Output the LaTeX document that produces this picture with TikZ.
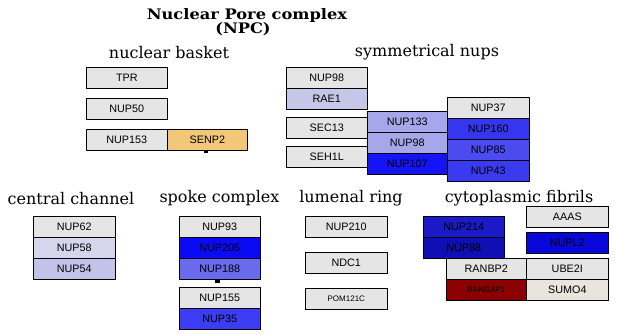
\documentclass[tikz,border=0pt]{standalone}
\usepackage{fontspec}
\setmainfont{DejaVu Serif}
\newfontfamily\boxfont{Liberation Sans}
\usetikzlibrary{backgrounds}
\definecolor{cgray}{HTML}{E5E5E5}
\definecolor{crae}{HTML}{C6C6E8}
\definecolor{clav}{HTML}{A6A6EB}
\definecolor{cb107}{HTML}{1414F5}
\definecolor{cb160}{HTML}{3636F0}
\definecolor{cb85}{HTML}{4B4BF0}
\definecolor{cb43}{HTML}{3A3AF0}
\definecolor{c58}{HTML}{D5D5EC}
\definecolor{c54}{HTML}{C3C3EA}
\definecolor{cb205}{HTML}{0A0AF5}
\definecolor{cb188}{HTML}{6A6AEE}
\definecolor{cb35}{HTML}{3C3CF2}
\definecolor{cb214}{HTML}{1A1AC8}
\definecolor{cb88}{HTML}{0F0FB4}
\definecolor{cbl2}{HTML}{0808D8}
\definecolor{cred}{HTML}{8B0000}
\definecolor{csumo}{HTML}{E8E4DE}
\definecolor{csenp}{HTML}{F2C878}
\tikzset{
  gbox/.style={draw=black, line width=0.6pt, anchor=north west, inner sep=0pt,
    minimum height=21pt, minimum width=81pt, font=\boxfont\fontsize{10.8}{12}\selectfont},
  smallbox/.style={gbox, font=\boxfont\fontsize{8}{10}\selectfont},
  heading/.style={font=\fontsize{16}{18}\selectfont, inner sep=0pt},
  titletext/.style={font=\bfseries\fontsize{14.5}{14}\selectfont, inner sep=0pt, xscale=1.12, transform shape},
  shadowfill/.style={fill=black}
}
\newcommand{\grpshadow}[2]{\fill[shadowfill] ([shift={(1.6,1.6)}]#1.north west) rectangle ([shift={(1.6,1.6)}]#2.south east);}
\begin{document}
\begin{tikzpicture}[x=1pt,y=-1pt]
\useasboundingbox[fill=white] (0,0) rectangle (617,334);
% titles
\node[titletext] (title) at (247,15.5) {Nuclear Pore complex};
\node[titletext] (npc) at (243,29) {(NPC)};
\node[heading] (hbasket) at (169,52.5) {nuclear basket};
\node[heading] (hsym) at (427,52.5) {symmetrical nups};
\node[heading] (hcentral) at (71,198.5) {central channel};
\node[heading] (hspoke) at (219.5,198.5) {spoke complex};
\node[heading] (hlumen) at (351,198.5) {lumenal ring};
\node[heading] (hcyto) at (519,198.5) {cytoplasmic fibrils};
% nuclear basket
\node[gbox, fill=cgray] (tpr) at (86,67) {TPR};
\node[gbox, fill=cgray] (nup50) at (86,98) {NUP50};
\node[gbox, fill=cgray] (nup153) at (86,129) {NUP153};
\node[gbox, fill=csenp, minimum width=80pt] (senp2) at (167,129) {SENP2};
% symmetrical nups
\node[gbox, fill=cgray] (nup98a) at (286,67) {NUP98};
\node[gbox, fill=crae] (rae1) at (286,88) {RAE1};
\node[gbox, fill=cgray] (sec13) at (286,117) {SEC13};
\node[gbox, fill=cgray] (seh1l) at (286,146) {SEH1L};
\node[gbox, fill=clav, minimum width=80pt] (nup133) at (367,111) {NUP133};
\node[gbox, fill=clav, minimum width=80pt] (nup98b) at (367,132) {NUP98};
\node[gbox, fill=cb107, minimum width=80pt] (nup107) at (367,153) {NUP107};
\node[gbox, fill=cgray, minimum width=82pt] (nup37) at (447,97) {NUP37};
\node[gbox, fill=cb160, minimum width=82pt] (nup160) at (447,118) {NUP160};
\node[gbox, fill=cb85, minimum width=82pt] (nup85) at (447,139) {NUP85};
\node[gbox, fill=cb43, minimum width=82pt] (nup43) at (447,160) {NUP43};
% central channel
\node[gbox, fill=cgray, minimum width=82pt] (nup62) at (33,216) {NUP62};
\node[gbox, fill=c58, minimum width=82pt] (nup58) at (33,237) {NUP58};
\node[gbox, fill=c54, minimum width=82pt] (nup54) at (33,258) {NUP54};
% spoke complex
\node[gbox, fill=cgray] (nup93) at (179,216) {NUP93};
\node[gbox, fill=cb205] (nup205) at (179,237) {NUP205};
\node[gbox, fill=cb188] (nup188) at (179,258) {NUP188};
\node[gbox, fill=cgray] (nup155) at (179,287) {NUP155};
\node[gbox, fill=cb35] (nup35) at (179,308) {NUP35};
% lumenal ring
\node[gbox, fill=cgray, minimum width=82pt] (nup210) at (305,216) {NUP210};
\node[gbox, fill=cgray, minimum width=82pt] (ndc1) at (305,252) {NDC1};
\node[smallbox, fill=cgray, minimum width=82pt] (pom) at (305,288) {POM121C};
% cytoplasmic fibrils
\node[gbox, fill=cb214] (nup214) at (423,216) {NUP214};
\node[gbox, fill=cb88] (nup88) at (423,237) {NUP88};
\node[gbox, fill=cgray, minimum width=82pt] (aaas) at (526,206) {AAAS};
\node[gbox, fill=cbl2, minimum width=82pt] (nupl2) at (526,232) {NUPL2};
\node[gbox, fill=cgray, minimum width=80pt] (ranbp2) at (446,258) {RANBP2};
\node[smallbox, fill=cred, minimum width=80pt] (rangap) at (446,279) {RANGAP1};
\node[gbox, fill=cgray, minimum width=82pt] (ube2i) at (526,258) {UBE2I};
\node[gbox, fill=csumo, minimum width=82pt] (sumo4) at (526,279) {SUMO4};
% shadows
\begin{pgfonlayer}{background}
\grpshadow{tpr}{tpr}
\grpshadow{nup50}{nup50}
\grpshadow{nup153}{senp2}
\grpshadow{nup98a}{rae1}
\grpshadow{sec13}{sec13}
\grpshadow{seh1l}{seh1l}
\grpshadow{nup133}{nup107}
\grpshadow{nup37}{nup43}
\grpshadow{nup62}{nup54}
\grpshadow{nup93}{nup188}
\grpshadow{nup155}{nup35}
\grpshadow{nup210}{nup210}
\grpshadow{ndc1}{ndc1}
\grpshadow{pom}{pom}
\grpshadow{nup214}{nup88}
\grpshadow{aaas}{aaas}
\grpshadow{nupl2}{nupl2}
\grpshadow{ranbp2}{sumo4}
\end{pgfonlayer}
% small marks
\fill[black] ([shift={(-3,0)}]senp2.south) rectangle ([shift={(1,2.5)}]senp2.south);
\fill[black] ([shift={(-5,0)}]nup188.south) rectangle ([shift={(0,3)}]nup188.south);
\end{tikzpicture}
\end{document}
